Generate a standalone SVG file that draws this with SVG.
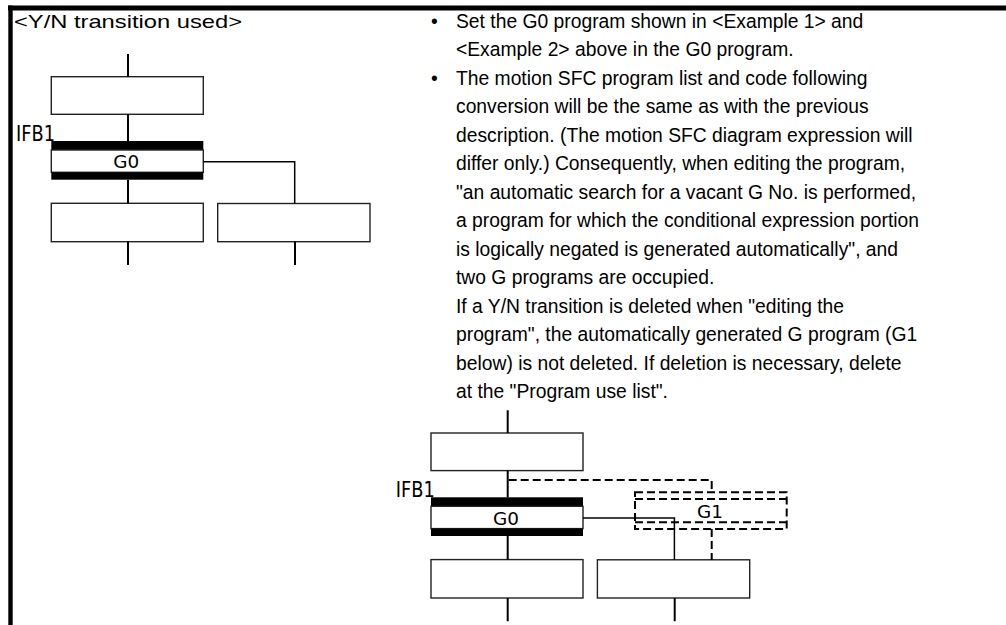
<svg xmlns="http://www.w3.org/2000/svg" width="1006" height="625" viewBox="0 0 1006 625">
<style>
.t{font-family:"Liberation Sans",Arial,sans-serif;font-size:19.3px;fill:#000}
.h{font-family:"Liberation Sans",Arial,sans-serif;font-size:18.6px;fill:#000}
.m{font-family:"Liberation Sans Narrow","DejaVu Sans Condensed","Liberation Sans",sans-serif;fill:#000}
.box{fill:#fff;stroke:#222;stroke-width:1.4}
.ln{fill:none;stroke:#000;stroke-width:2}
.br{fill:none;stroke:#000;stroke-width:1.5}
.bar{fill:#000}
.dash{fill:none;stroke:#000;stroke-width:2;stroke-dasharray:8 4}
</style>
<rect x="8" y="5.5" width="998" height="5" fill="#000"/>
<rect x="8.3" y="5.5" width="4.4" height="620" fill="#000"/>
<text class="h" x="14" y="28" textLength="228" lengthAdjust="spacingAndGlyphs">&lt;Y/N transition used&gt;</text>
<g id="notes">
<text class="t" x="431" y="27.5">•</text>
<text class="t" x="456" y="27.5">Set the G0 program shown in &lt;Example 1&gt; and</text>
<text class="t" x="456" y="56">&lt;Example 2&gt; above in the G0 program.</text>
<text class="t" x="431" y="84.5">•</text>
<text class="t" x="456" y="84.5">The motion SFC program list and code following</text>
<text class="t" x="456" y="113">conversion will be the same as with the previous</text>
<text class="t" x="456" y="141.5">description. (The motion SFC diagram expression will</text>
<text class="t" x="456" y="170">differ only.) Consequently, when editing the program,</text>
<text class="t" x="456" y="198.5">"an automatic search for a vacant G No. is performed,</text>
<text class="t" x="456" y="227">a program for which the conditional expression portion</text>
<text class="t" x="456" y="255.5">is logically negated is generated automatically", and</text>
<text class="t" x="456" y="284">two G programs are occupied.</text>
<text class="t" x="456" y="312.5">If a Y/N transition is deleted when "editing the</text>
<text class="t" x="456" y="341">program", the automatically generated G program (G1</text>
<text class="t" x="456" y="369.5">below) is not deleted. If deletion is necessary, delete</text>
<text class="t" x="456" y="398">at the "Program use list".</text>
</g>
<defs>
<g id="sfc">
<rect class="box" x="51.3" y="76.7" width="152" height="37.6"/>
<rect class="bar" x="51.3" y="141" width="152" height="9"/>
<rect class="box" x="51.3" y="150" width="152" height="22.3"/>
<rect class="bar" x="51.3" y="172.3" width="152" height="7.4"/>
<rect class="box" x="51.3" y="203.3" width="152" height="38.4"/>
<rect class="box" x="217.7" y="203.5" width="152.3" height="38.2"/>
<text class="m" x="16" y="141" font-size="22" textLength="39" lengthAdjust="spacingAndGlyphs">IFB1</text>
<text class="m" x="126.3" y="168.3" font-size="17" text-anchor="middle" textLength="26" lengthAdjust="spacingAndGlyphs">G0</text>
</g>
<g id="sfcLines">
<path class="ln" d="M128 54V76.7M128 114.3V141M128 179.7V203.3M128 241.7V265M295 241.7V265"/>
<path class="br" d="M203.3 161.7H294.7V203.5"/>
</g>
</defs>
<g id="left-diagram">
<use href="#sfc"/>
</g>
<g id="right-diagram" transform="translate(379.7 356.3)">
<use href="#sfc"/>
</g>
<g id="g1-transition">
<path class="dash" d="M635 492.3H786.7V529H635Z"/>
<path class="dash" d="M635 499H786.7M635 522.3H786.7"/>
<text class="m" x="710" y="517.5" font-size="17" text-anchor="middle" textLength="26" lengthAdjust="spacingAndGlyphs">G1</text>
</g>
<g id="connectors">
<use href="#sfcLines"/>
<use href="#sfcLines" transform="translate(379.7 356.3)"/>
<path class="dash" d="M508.7 480H711.7V492.3"/>
<path class="dash" d="M711.7 529V560"/>
</g>
</svg>
